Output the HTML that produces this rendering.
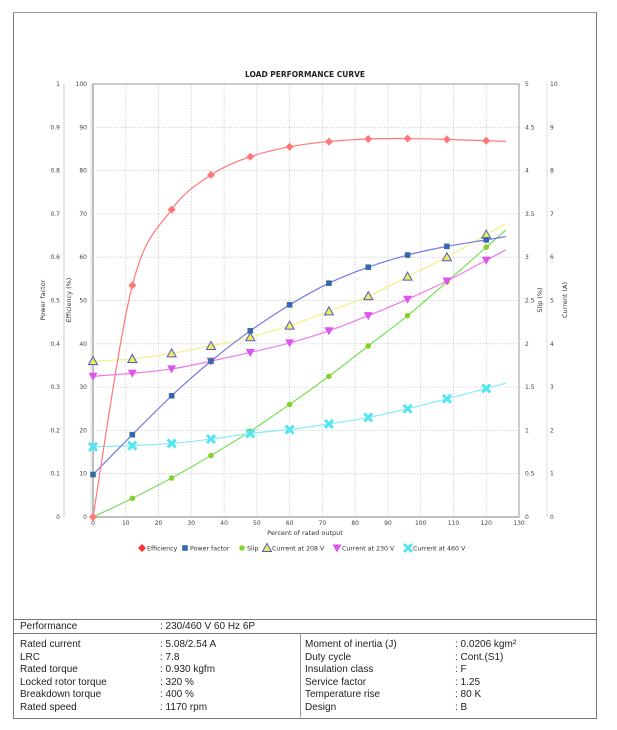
<!DOCTYPE html>
<html><head><meta charset="utf-8">
<style>
body{margin:0;background:#fff;width:617px;height:730px;overflow:hidden;font-family:"Liberation Sans",sans-serif;}
#frame{position:absolute;left:13px;top:12px;width:582px;height:705px;border:1.5px solid #777;border-top:1px solid #999;}
svg text{font-family:"DejaVu Sans","Liberation Sans",sans-serif;}
.tbl{position:absolute;font-size:10px;color:#222;white-space:nowrap;}
</style></head>
<body>
<div id="frame"></div>
<svg id="chart" width="617" height="730" style="position:absolute;left:0;top:0"></svg>

<div>
<div style="position:absolute;left:14px;top:619px;width:582px;border-top:1px solid #777"></div>
<div style="position:absolute;left:14px;top:633px;width:582px;border-top:1px solid #777"></div>
<div style="position:absolute;left:300px;top:633px;height:84px;border-left:1px solid #999"></div>
<div class="tbl" style="left:20px;top:621px">Performance</div>
<div class="tbl" style="left:160px;top:621px">: 230/460 V 60 Hz 6P</div>
<div class="tbl" style="left:20px;top:639px;line-height:12.5px">Rated current<br>LRC<br>Rated torque<br>Locked rotor torque<br>Breakdown torque<br>Rated speed</div>
<div class="tbl" style="left:160px;top:639px;line-height:12.5px">: 5.08/2.54 A<br>: 7.8<br>: 0.930 kgfm<br>: 320 %<br>: 400 %<br>: 1170 rpm</div>
<div class="tbl" style="left:305px;top:639px;line-height:12.5px">Moment of inertia (J)<br>Duty cycle<br>Insulation class<br>Service factor<br>Temperature rise<br>Design</div>
<div class="tbl" style="left:455px;top:639px;line-height:12.5px">: 0.0206 kgm²<br>: Cont.(S1)<br>: F<br>: 1.25<br>: 80 K<br>: B</div>
</div>

<script>
const xValues=[0,12,24,36,48,60,72,84,96,108,120];
const efficiency=[0,53.5,71,79,83.2,85.5,86.7,87.3,87.4,87.2,86.9];
const powerFactor=[0.098,0.19,0.28,0.36,0.43,0.49,0.54,0.577,0.605,0.625,0.64];
const slip=[0,0.215,0.45,0.71,0.99,1.3,1.625,1.975,2.325,2.715,3.115];
const current208=[3.6,3.65,3.78,3.95,4.15,4.42,4.75,5.1,5.55,6.0,6.52];
const current230=[3.25,3.32,3.42,3.6,3.8,4.02,4.3,4.65,5.03,5.45,5.93];
const current460=[1.62,1.65,1.7,1.8,1.93,2.02,2.15,2.3,2.5,2.73,2.97];
const xTicks=[0,10,20,30,40,50,60,70,80,90,100,110,120,130];
const effTicks=[0,10,20,30,40,50,60,70,80,90,100];
const pfTicks=[0,0.1,0.2,0.3,0.4,0.5,0.6,0.7,0.8,0.9,1];
const slipTicks=[0,0.5,1,1.5,2,2.5,3,3.5,4,4.5,5];
const curTicks=[0,1,2,3,4,5,6,7,8,9,10];

const NS='http://www.w3.org/2000/svg';
const svg=document.getElementById('chart');
const L=93,R=519,T=84,B=517;
const sx=v=>L+(v-0)/130*(R-L);
const sEff=v=>B-v/100*(B-T);
const sPF=v=>B-v/1*(B-T);
const sSlip=v=>B-v/5*(B-T);
const sCur=v=>B-v/10*(B-T);
function el(tag,attrs,parent){const e=document.createElementNS(NS,tag);for(const k in attrs)e.setAttribute(k,attrs[k]);(parent||svg).appendChild(e);return e;}
function txt(s,x,y,attrs){const t=el('text',Object.assign({x:x,y:y,'font-size':6,fill:'#444'},attrs||{}));t.textContent=s;return t;}

// title
const title=txt('LOAD PERFORMANCE CURVE',305,77,{'font-size':7.5,'font-weight':'bold','text-anchor':'middle',fill:'#222'});



// grid
const grid=el('g',{});


xTicks.forEach(v=>{el('line',{x1:sx(v),x2:sx(v),y1:T,y2:B,stroke:'#ccc','stroke-dasharray':'1.5,1.5','stroke-width':0.8},grid);});
effTicks.forEach(v=>{el('line',{x1:L,x2:R,y1:sEff(v),y2:sEff(v),stroke:'#ccc','stroke-dasharray':'1.5,1.5','stroke-width':0.8},grid);});
const frame=el('rect',{x:L,y:T,width:R-L,height:B-T,fill:'none',stroke:'#999','stroke-width':1});


el('line',{x1:L,x2:L,y1:T,y2:B,stroke:'#aaa','stroke-width':1.5});
el('line',{x1:L,x2:R,y1:B,y2:B,stroke:'#aaa','stroke-width':1.5});

// axes
const xAxis=el('g',{});


xTicks.forEach(v=>{const t=txt(String(v),sx(v),525,{'text-anchor':'middle'});xAxis.appendChild(t);});
const xt=txt('Percent of rated output',305,535,{'text-anchor':'middle','font-size':6.5,fill:'#333'});



const effAxis=el('g',{});


effTicks.forEach(v=>{effAxis.appendChild(txt(String(v),87,sEff(v)+2,{'text-anchor':'end'}));});
el('line',{x1:91,x2:91,y1:T,y2:B,stroke:'#ddd','stroke-width':1});
const pfAxis=el('g',{});


pfTicks.forEach(v=>{pfAxis.appendChild(txt(String(v),60,sPF(v)+2,{'text-anchor':'end'}));});
el('line',{x1:64,x2:64,y1:T,y2:B,stroke:'#ddd','stroke-width':1.5});
const slipAxis=el('g',{});


slipTicks.forEach(v=>{slipAxis.appendChild(txt(String(v),525,sSlip(v)+2,{}));});
const curAxis=el('g',{});


curTicks.forEach(v=>{curAxis.appendChild(txt(String(v),550,sCur(v)+2,{}));});
el('line',{x1:547,x2:547,y1:T,y2:B,stroke:'#ddd','stroke-width':1});

function vlabel(s,x,name){const t=txt(s,x,300,{'text-anchor':'middle',transform:'rotate(-90 '+x+' 300)','font-size':6.5,fill:'#333'});}
vlabel('Power factor',45,'power-factor-axis-title');
vlabel('Efficiency (%)',71,'efficiency-axis-title');
vlabel('Slip (%)',542,'slip-axis-title');
vlabel('Current (A)',567,'current-axis-title');

function curvePath(pts){
  let d='M'+pts[0][0]+','+pts[0][1];
  for(let i=0;i<pts.length-1;i++){
    const p0=pts[Math.max(i-1,0)],p1=pts[i],p2=pts[i+1],p3=pts[Math.min(i+2,pts.length-1)];
    const c1=[p1[0]+(p2[0]-p0[0])/6,p1[1]+(p2[1]-p0[1])/6];
    const c2=[p2[0]-(p3[0]-p1[0])/6,p2[1]-(p3[1]-p1[1])/6];
    d+=' C'+c1[0]+','+c1[1]+' '+c2[0]+','+c2[1]+' '+p2[0]+','+p2[1];
  }
  return d;
}
function marker(g,type,x,y,col){
  if(type==='diamond')el('polygon',{points:[x,y-4,x+4,y,x,y+4,x-4,y].join(' '),fill:col},g);
  else if(type==='square')el('rect',{x:x-2.5,y:y-2.5,width:5,height:5,fill:'#3b5bd9',stroke:'#2a8a3a','stroke-width':0.6},g);
  else if(type==='circle')el('circle',{cx:x,cy:y,r:2.5,fill:'#66dd33',stroke:'#c8b820','stroke-width':0.6},g);
  else if(type==='tri')el('polygon',{points:[x,y-4.5,x+4.5,y+3.5,x-4.5,y+3.5].join(' '),fill:'#eeee55',stroke:'#5555cc','stroke-width':1},g);
  else if(type==='itri')el('polygon',{points:[x-4.5,y-3.5,x+4.5,y-3.5,x,y+4.5].join(' '),fill:'#dd55ee'},g);
  else if(type==='x'){el('path',{d:'M'+(x-4)+','+(y-4)+' L'+(x+4)+','+(y+4)+' M'+(x+4)+','+(y-4)+' L'+(x-4)+','+(y+4),stroke:'#55e5f0','stroke-width':3},g);}
}
function series(vals,scale,col,type,name){
  const g=el('g',{});
  
  
  const pts=xValues.map((x,i)=>[sx(x),scale(vals[i])]);
  const n=vals.length;
  const slope=(vals[n-1]-vals[n-2])/(xValues[n-1]-xValues[n-2]);
  const ext=[sx(126),scale(vals[n-1]+slope*6)];
  el('path',{d:curvePath(pts.concat([ext])),fill:'none',stroke:col,'stroke-width':1.2},g);
  pts.forEach(p=>marker(g,type,p[0],p[1],col));
}
series(slip,sSlip,'#77e055','circle','slip-series');
series(current460,sCur,'#88eef5','x','current-460v-series');
series(current230,sCur,'#ee77ee','itri','current-230v-series');
series(current208,sCur,'#f2f288','tri','current-208v-series');
series(powerFactor,sPF,'#7777ee','square','power-factor-series');
series(efficiency,sEff,'#ff7777','diamond','efficiency-series');

// legend
const lg=el('g',{});


const items=[['diamond','#ff3333','Efficiency',142],['square','#3b5bd9','Power factor',185],['circle','#66dd33','Slip',242],['tri','#eeee55','Current at 208 V',267],['itri','#dd55ee','Current at 230 V',337],['x','#55e5f0','Current at 460 V',408]];
items.forEach(it=>{
  const g=el('g',{},lg);
  
  
  marker(g,it[0],it[3],548,it[1]);
  const t=txt(it[2],it[3]+5,550.5,{'font-size':6.3,fill:'#333'});g.appendChild(t);
});
</script>
</body></html>
